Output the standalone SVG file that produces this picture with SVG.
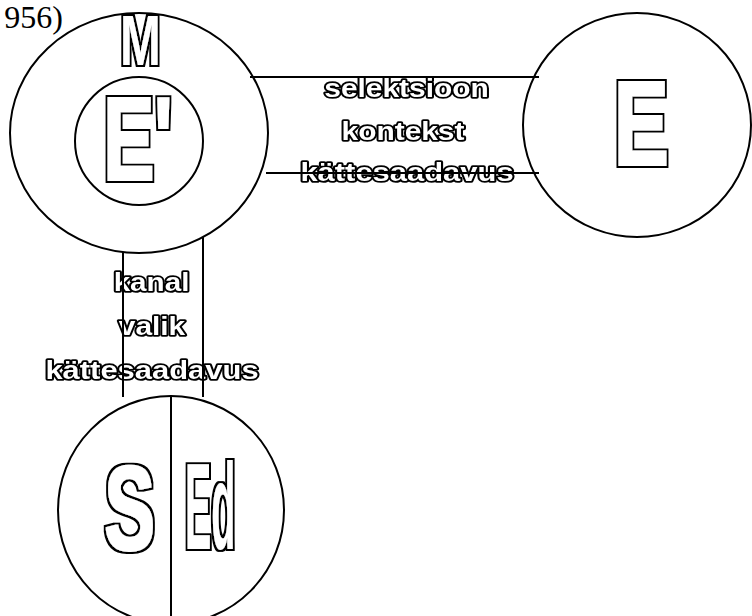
<svg xmlns="http://www.w3.org/2000/svg" width="752" height="616" viewBox="0 0 752 616">
  <defs>
    <!-- pass-through filter: rasterises the outlined lettering in plain greyscale -->
    <filter id="flat" x="-5%" y="-20%" width="110%" height="140%">
      <feOffset dx="0" dy="0"/>
    </filter>
    <!-- hollow capitals: letter body grown slightly, then a black rim -->
    <filter id="hollow" x="-20%" y="-20%" width="140%" height="140%">
      <feMorphology in="SourceAlpha" operator="dilate" radius="0.5" result="body"/>
      <feMorphology in="SourceAlpha" operator="dilate" radius="2.5" result="rim"/>
      <feFlood flood-color="#000" result="ink"/>
      <feComposite in="ink" in2="rim" operator="in" result="rimInk"/>
      <feFlood flood-color="#fff" result="paper"/>
      <feComposite in="paper" in2="body" operator="in" result="bodyPaper"/>
      <feMerge>
        <feMergeNode in="rimInk"/>
        <feMergeNode in="bodyPaper"/>
      </feMerge>
    </filter>
    <!-- lighter variant for the narrow letters (keeps their counters open) -->
    <filter id="hollowThin" x="-20%" y="-20%" width="140%" height="140%">
      <feMorphology in="SourceAlpha" operator="dilate" radius="2" result="rim"/>
      <feFlood flood-color="#000" result="ink"/>
      <feComposite in="ink" in2="rim" operator="in" result="rimInk"/>
      <feFlood flood-color="#fff" result="paper"/>
      <feComposite in="paper" in2="SourceAlpha" operator="in" result="bodyPaper"/>
      <feMerge>
        <feMergeNode in="rimInk"/>
        <feMergeNode in="bodyPaper"/>
      </feMerge>
    </filter>
  </defs>
  <style>
    .ring { fill: none; stroke: #000; stroke-width: 2; }
    .big { font-family: "Liberation Sans", Arial, sans-serif; font-weight: bold; fill: #000; }
    .lbl { font-family: "Liberation Sans", Arial, sans-serif; font-weight: bold; font-size: 26px; fill: #fff; stroke: #000; stroke-width: 3.6; stroke-linejoin: round; paint-order: stroke; text-anchor: middle; }
    .wire { stroke: #000; stroke-width: 2; fill: none; }
    .ref { font-family: "Liberation Serif", "Times New Roman", serif; font-size: 32px; fill: #000; }
  </style>

  <rect width="752" height="616" fill="#fff"/>

  <text class="ref" x="63" y="28" text-anchor="end">956)</text>

  <!-- M : outer ring holding E' -->
  <g id="node-M">
    <ellipse class="ring" cx="139" cy="133" rx="129" ry="120"/>
    <g filter="url(#hollowThin)">
      <text class="big" font-size="49" transform="translate(140.5,65) scale(1,1.43)" text-anchor="middle">M</text>
    </g>
    <g id="node-E-prime">
      <circle class="ring" cx="139" cy="141" r="64"/>
      <g filter="url(#hollow)">
        <text class="big" font-size="76" transform="translate(103.5,180) scale(1,1.56)">E'</text>
      </g>
    </g>
  </g>

  <!-- E -->
  <g id="node-E">
    <ellipse class="ring" cx="637" cy="125" rx="114" ry="112"/>
    <g filter="url(#hollow)">
      <text class="big" font-size="82" transform="translate(614,165) scale(1,1.465)">E</text>
    </g>
  </g>

  <!-- S | Ed -->
  <g id="node-S-Ed">
    <ellipse class="ring" cx="171" cy="510" rx="113" ry="114"/>
    <line class="wire" x1="171" y1="396" x2="171" y2="616"/>
    <g filter="url(#hollow)">
      <text class="big" font-size="75.5" transform="translate(104.4,549.6) scale(1,1.59)">S</text>
    </g>
    <g filter="url(#hollowThin)">
      <text class="big" font-size="39.5" transform="translate(185,549) scale(1,3.08)">Ed</text>
    </g>
  </g>

  <!-- links with their labels; the rules run over the lettering -->
  <g id="connectors">
    <g id="link-M-E">
      <g filter="url(#flat)">
        <text class="lbl" transform="translate(406.5,97) scale(1.15,1)">selektsioon</text>
        <text class="lbl" transform="translate(403,140) scale(1.15,1)">kontekst</text>
        <text class="lbl" transform="translate(407,181) scale(1.19,1)">kättesaadavus</text>
      </g>
      <line class="wire" x1="250" y1="77" x2="539" y2="77"/>
      <line class="wire" x1="266" y1="173" x2="539" y2="173"/>
    </g>
    <g id="link-M-S">
      <g filter="url(#flat)">
        <text class="lbl" transform="translate(151.5,291) scale(1.14,1)">kanal</text>
        <text class="lbl" transform="translate(152,335) scale(1.15,1)">valik</text>
        <text class="lbl" transform="translate(152,379) scale(1.19,1)">kättesaadavus</text>
      </g>
      <line class="wire" x1="123" y1="252" x2="123" y2="397"/>
      <line class="wire" x1="203" y1="237" x2="203" y2="397"/>
    </g>
  </g>
</svg>
